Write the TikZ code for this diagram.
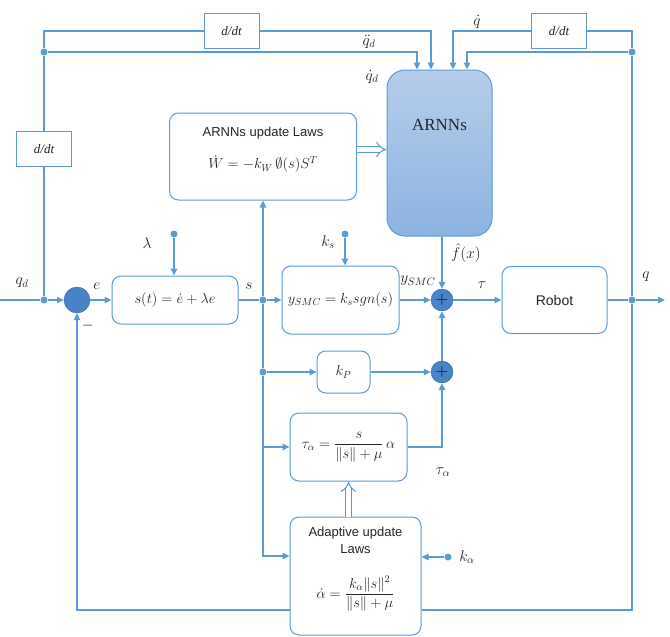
\RequirePackage{fix-cm}
\documentclass[tikz,border=0pt]{standalone}
\usepackage{amsmath}
\usepackage{fontspec}
\usetikzlibrary{arrows.meta}
\newfontfamily\sansfam{Liberation Sans}
\newfontfamily\seriffam{Liberation Serif}
\definecolor{azul}{RGB}{91,155,213}
\definecolor{azulsuma}{RGB}{72,130,199}
\definecolor{azulclaro}{RGB}{182,205,234}
\definecolor{azulmedio}{RGB}{140,179,225}
\newcommand{\formula}[1]{{\fontsize{14.5}{16}\selectfont$#1$}}
\begin{document}
\begin{tikzpicture}[x=1pt, y=-1pt,
  every node/.style={font=\fontsize{14.5}{16}\selectfont, text=black!85},
  etiqueta/.style={font=\fontsize{15.5}{17}\selectfont},
  linea/.style={draw=azul, line width=1.3pt},
  flecha/.style={linea, -{Triangle[length=7pt,width=6.5pt]}},
  hueca/.style={draw=azul, line width=1pt, double=white, double distance=4.5pt, -{Implies}},
  bloque/.style={draw=azul, line width=1pt, rounded corners=9pt, fill=white, inner sep=0pt},
  deriv/.style={draw=azul, line width=1pt, fill=white, minimum width=55pt, minimum height=35pt,
    font=\fontsize{13}{15}\seriffam\itshape},
  suma/.style={circle, draw=azulsuma!80!black, fill=azulsuma, minimum size=22pt, inner sep=0pt},
  punto/.style={circle, fill=azul, minimum size=7pt, inner sep=0pt}]
  \useasboundingbox (0,0) rectangle (670,637);
  % bloques
  \node[bloque, minimum width=126pt, minimum height=48pt] (st) at (175,300) {$s(t) = \dot e + \lambda e$};
  \node[bloque, minimum width=117pt, minimum height=68pt] (ysmc) at (340.5,300) {$y_{SMC} = k_s sgn(s)$};
  \node[bloque, minimum width=53pt, minimum height=42pt] (kp) at (343.5,372) {$k_P$};
  \node[bloque, minimum width=117pt, minimum height=68pt] (tau) at (348.5,447) {$\tau_\alpha = \dfrac{s}{\|s\| + \mu}\,\alpha$};
  \node[bloque, minimum width=131pt, minimum height=118pt, font=\fontsize{13}{17}\sansfam] (adap) at (355.5,576)
    {\raisebox{8pt}[\height][\depth]{\begin{tabular}{@{}c@{}}Adaptive update\\Laws\\[18pt]\formula{\dot\alpha = \dfrac{k_\alpha \|s\|^2}{\|s\| + \mu}}\end{tabular}}};
  \node[bloque, minimum width=105pt, minimum height=67pt, font=\fontsize{14}{16}\sansfam] (robot) at (554.5,300) {Robot};
  \node[bloque, minimum width=187pt, minimum height=87pt, font=\fontsize{13}{15}\sansfam] (upd) at (263,156.5)
    {\raisebox{7pt}[\height][\depth]{\begin{tabular}{@{}c@{}}ARNNs update Laws\\[15pt]\formula{\dot W = -k_W\,\emptyset(s)S^T}\end{tabular}}};
  \node[draw=azul, line width=1pt, rounded corners=18pt, top color=azulclaro, bottom color=azulmedio,
    minimum width=105pt, minimum height=166pt, inner sep=0pt] (arnn) at (439.5,153) {};
  \node[font=\fontsize{17}{19}\seriffam] (arnntxt) at (439.5,125) {ARNNs};
  \node[deriv] (ddt1) at (231.5,31) {d/dt};
  \node[deriv] (ddt2) at (559,31) {d/dt};
  \node[deriv] (ddt3) at (44,149) {d/dt};
  % sumadores y puntos
  \node[suma, minimum size=26pt] (suma0) at (77,300) {};
  \node[suma] (suma1) at (442,300) {$\boldsymbol{+}$};
  \node[suma] (suma2) at (442,372) {$\boldsymbol{+}$};
  \node[punto] (j1) at (44,300) {};
  \node[punto] (j2) at (44,52) {};
  \node[punto] (j3) at (632,52) {};
  \node[punto] (j4) at (632,300) {};
  \node[punto] (js) at (263,300) {};
  \node[punto] (jk) at (263,372) {};
  \node[punto] (lam) at (174,234) {};
  \node[punto] (ks) at (345,234) {};
  \node[punto] (ka) at (448,557) {};
  \coordinate (ent) at (0,300);
  \coordinate (sal) at (665,300);
  \coordinate (fondo) at (0,610);
  \coordinate (e1) at ([xshift=-22.5pt]arnn.north);
  \coordinate (e2) at ([xshift=-8.5pt]arnn.north);
  \coordinate (e3) at ([xshift=13.5pt]arnn.north);
  \coordinate (e4) at ([xshift=27.5pt]arnn.north);
  % lazo principal
  \draw[linea] (ent) -- (j1);
  \draw[flecha] (j1) -- (suma0);
  \draw[flecha] (suma0) -- (st);
  \draw[linea] (st) -- (js);
  \draw[flecha] (js) -- (ysmc);
  \draw[flecha] (ysmc) -- (suma1);
  \draw[flecha] (suma1) -- (robot);
  \draw[linea] (robot) -- (j4);
  \draw[flecha] (j4) -- (sal);
  % derivadas hacia la red
  \draw[linea] (j1) -- (ddt3);
  \draw[linea] (ddt3) -- (j2);
  \draw[linea] (j2) |- (ddt1);
  \draw[flecha] (j2) -| (e1);
  \draw[flecha] (ddt1) -| (e2);
  \draw[flecha] (ddt2) -| (e3);
  \draw[flecha] (j3) -| (e4);
  \draw[linea] (j4) -- (j3);
  \draw[linea] (j3) |- (ddt2);
  % ganancias y ramas de s
  \draw[flecha] (lam) -- (lam |- st.north);
  \draw[flecha] (ks) -- (ks |- ysmc.north);
  \draw[flecha] (ka) -- (ka -| adap.east);
  \draw[flecha] (suma1 |- arnn.south) -- (suma1);
  \draw[flecha] (js) -- (js |- upd.south);
  \draw[linea] (js) -- (jk);
  \draw[flecha] (jk) -- (kp);
  \draw[flecha] (jk) |- (tau);
  \draw[flecha] (jk) |- ([yshift=20pt]adap.west);
  \draw[flecha] (kp) -- (suma2);
  \draw[flecha] (tau) -| (suma2);
  \draw[flecha] (suma2) -- (suma1);
  % realimentacion
  \draw[linea] (j4) |- (adap.east |- fondo);
  \draw[flecha] (adap.west |- fondo) -| (suma0);
  % flechas huecas
  \draw[hueca] ([yshift=7pt]upd.east) -- ([yshift=7pt]upd.east -| arnn.west);
  \draw[hueca] (tau.south |- adap.north) -- (tau.south);
  % etiquetas
  \node[etiqueta] (lqd) at (22,283) {$q_d$};
  \node[etiqueta] (le) at (97,286) {$e$};
  \node[etiqueta] (lmenos) at (88,326) {$-$};
  \node[etiqueta] (ls) at (249,286) {$s$};
  \node[etiqueta] (llam) at (147,243) {$\lambda$};
  \node[etiqueta] (lks) at (328,242) {$k_s$};
  \node[etiqueta] (lysmc) at (418,281) {$y_{SMC}$};
  \node[etiqueta] (ltau) at (482,285) {$\tau$};
  \node[etiqueta] (lq) at (646,277) {$q$};
  \node[etiqueta] (lf) at (466,253) {$\hat f(x)$};
  \node[etiqueta] (ltaua) at (443,472) {$\tau_\alpha$};
  \node[etiqueta] (lka) at (467,557) {$k_\alpha$};
  \node[etiqueta] (lqdd) at (369,42) {$\ddot q_d$};
  \node[etiqueta] (lqdot) at (372,77) {$\dot q_d$};
  \node[etiqueta] (lqp) at (477,22) {$\dot q$};
\end{tikzpicture}
\end{document}
